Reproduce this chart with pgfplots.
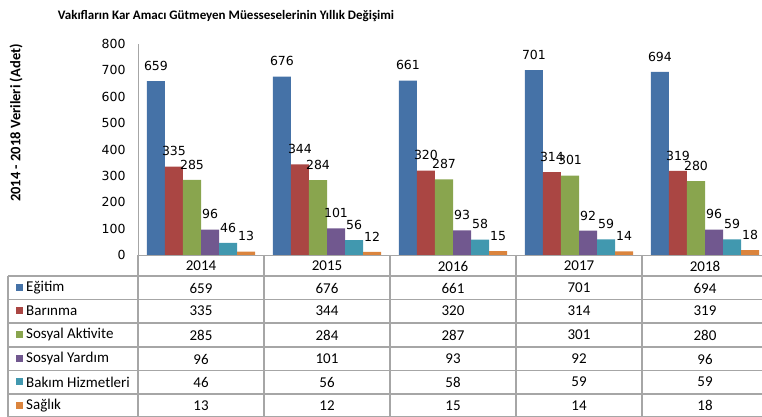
\documentclass[border=0pt]{standalone}
\usepackage{fontspec}
\setmainfont{Carlito}
\newfontfamily\dejavu{DejaVu Sans}
\usepackage{pgfplots}
\pgfplotsset{compat=1.18}

\definecolor{cEgitim}{HTML}{4572A7}
\definecolor{cBarinma}{HTML}{AA4643}
\definecolor{cAktivite}{HTML}{89A54E}
\definecolor{cYardim}{HTML}{71588F}
\definecolor{cBakim}{HTML}{4198AF}
\definecolor{cSaglik}{HTML}{DB843D}
\definecolor{linegray}{HTML}{A6A6A6}

\begin{document}
\begin{tikzpicture}[x=1pt,y=1pt]
\useasboundingbox (0,0) rectangle (762,417);

\begin{axis}[
  at={(138pt,162pt)}, anchor=south west,
  scale only axis, width=630pt, height=211pt,
  ybar=0pt, bar width=0.143,
  xmin=-0.5, xmax=4.5, ymin=0, ymax=800,
  ytick={0,100,...,800},
  xtick=\empty,
  axis x line*=bottom, axis y line*=left,
  axis line style={draw=linegray, line width=0.8pt},
  major tick length=0pt,
  /pgf/number format/assume math mode=true,
  yticklabel style={font=\dejavu\fontsize{12.5}{14}\selectfont, xshift=-9pt},
  nodes near coords,
  every node near coord/.append style={font=\dejavu\fontsize{12.5}{14}\selectfont, yshift=7pt, text=black},
  clip=false,
]
\addplot[fill=cEgitim, draw=none] coordinates {(0,659) (1,676) (2,661) (3,701) (4,694)};
\addplot[fill=cBarinma, draw=none] coordinates {(0,335) (1,344) (2,320) (3,314) (4,319)};
\addplot[fill=cAktivite, draw=none] coordinates {(0,285) (1,284) (2,287) (3,301) (4,280)};
\addplot[fill=cYardim, draw=none] coordinates {(0,96) (1,101) (2,93) (3,92) (4,96)};
\addplot[fill=cBakim, draw=none] coordinates {(0,46) (1,56) (2,58) (3,59) (4,59)};
\addplot[fill=cSaglik, draw=none] coordinates {(0,13) (1,12) (2,15) (3,14) (4,18)};
\end{axis}

% title and axis label
\node[font=\bfseries\fontsize{13}{15}\selectfont] at (226,401) {Vakıfların Kar Amacı Gütmeyen Müesseselerinin Yıllık Değişimi};
\node[font=\bfseries\fontsize{14.5}{16}\selectfont, rotate=90, anchor=center] at (16,294) {2014 - 2018 Verileri (Adet)};

% data table
\foreach \y in {141,117.5,94,70,46.5,23,0.6}
  \draw[linegray, line width=1.2pt] (8,\y) -- (762,\y);
\draw[linegray, line width=1.2pt] (8,141) -- (8,0);
\foreach \x in {138,264,390,516,642}
  \draw[linegray, line width=1.2pt] (\x,162) -- (\x,0);

\foreach \yr [count=\i from 0] in {2014,2015,2016,2017,2018}
  \node[font=\fontsize{15}{17}\selectfont] at (201+126*\i,151) {\yr};

\foreach \lab/\col/\yy/\vals in {
    Eğitim/cEgitim/129/{659,676,661,701,694},
    Barınma/cBarinma/106/{335,344,320,314,319},
    Sosyal Aktivite/cAktivite/82/{285,284,287,301,280},
    Sosyal Yardım/cYardim/58/{96,101,93,92,96},
    Bakım Hizmetleri/cBakim/35/{46,56,58,59,59},
    Sağlık/cSaglik/11.5/{13,12,15,14,18}} {
  \fill[\col] (16,\yy-3.5) rectangle (23,\yy+3.5);
  \node[font=\fontsize{15}{17}\selectfont, anchor=west, inner sep=0pt] at (26,\yy) {\lab};
  \foreach \v [count=\j from 0] in \vals
    \node[font=\fontsize{15}{17}\selectfont] at (201+126*\j,\yy) {\v};
}
\end{tikzpicture}
\end{document}
